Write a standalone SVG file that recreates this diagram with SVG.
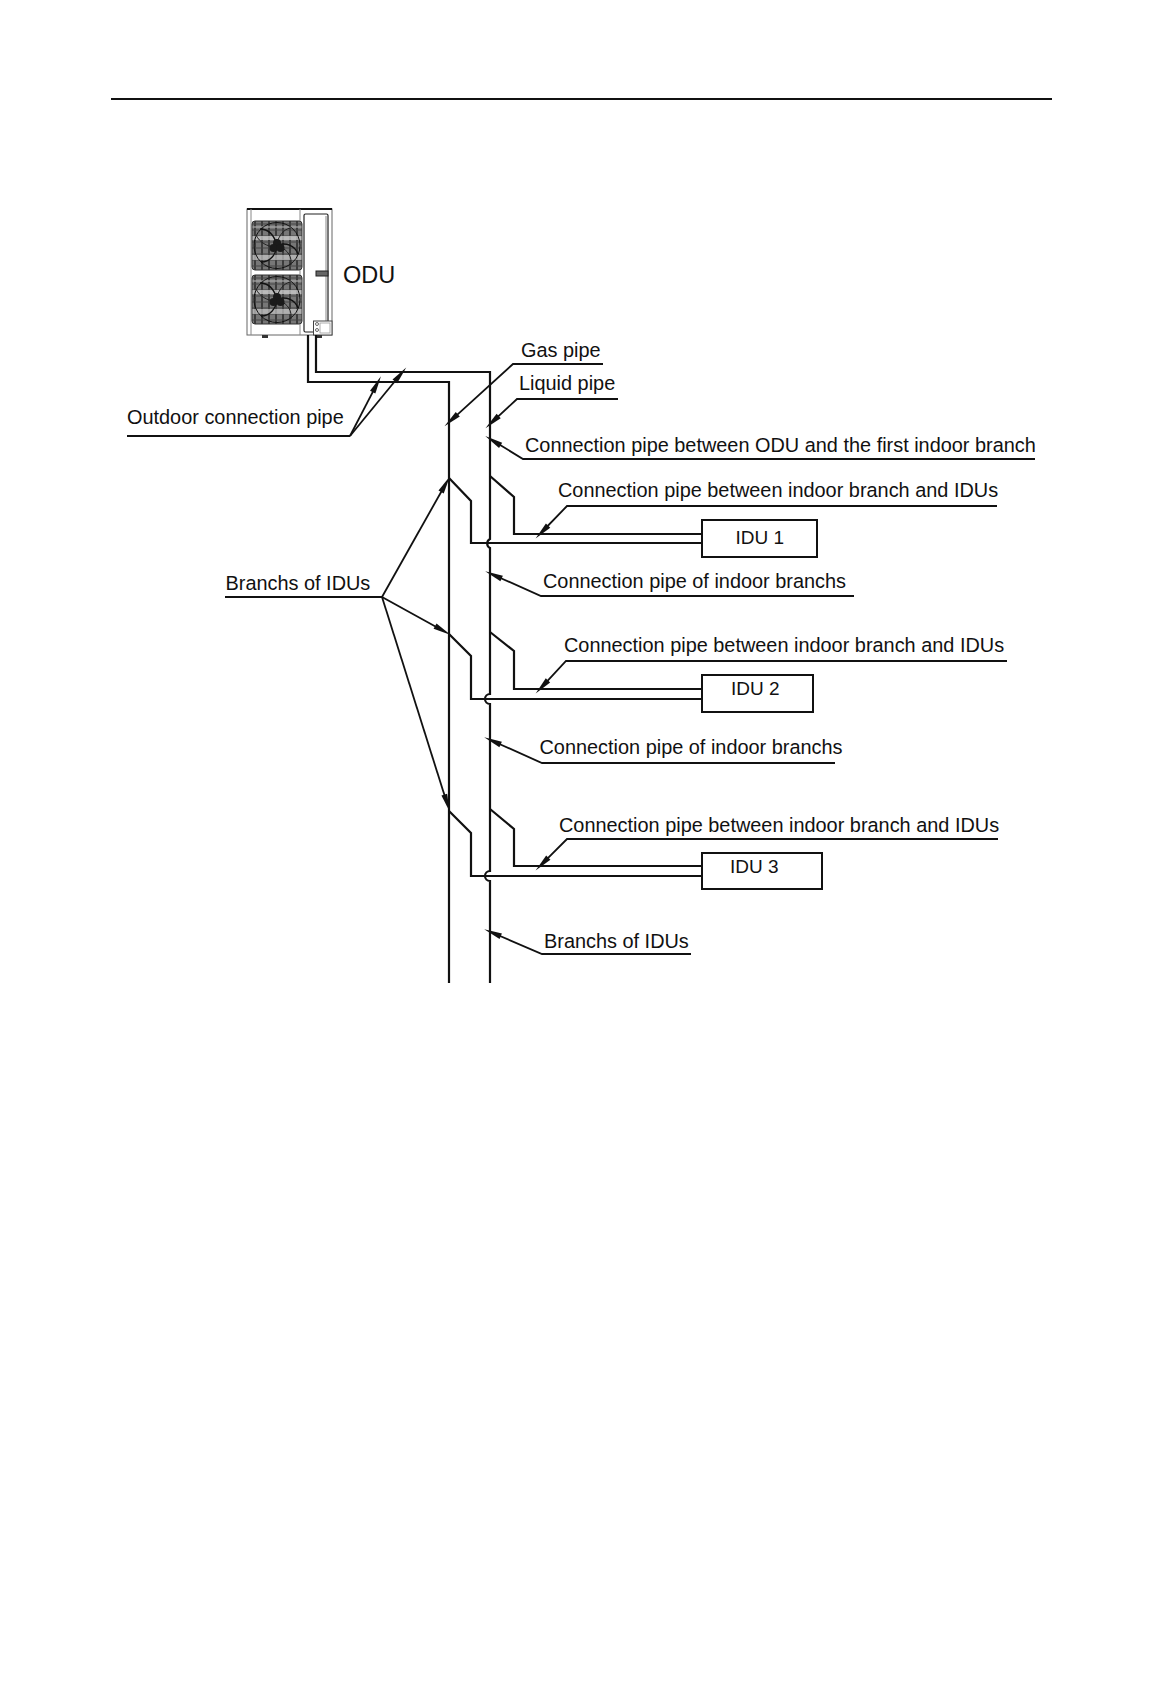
<svg xmlns="http://www.w3.org/2000/svg" width="1162" height="1684" viewBox="0 0 1162 1684">
<style>
text{font-family:"Liberation Sans",Arial,sans-serif;font-size:19.900px;fill:#111}
.idu{font-size:19px}
.pipe{fill:none;stroke:#111;stroke-width:2.2}
.lead{fill:none;stroke:#111;stroke-width:1.8;marker-end:url(#ah)}
.under{fill:none;stroke:#111;stroke-width:1.8}
.box{fill:#fff;stroke:#111;stroke-width:2}
.thin{fill:none;stroke:#888;stroke-width:1}
</style>
<defs>
<marker id="ah" markerUnits="userSpaceOnUse" markerWidth="18" markerHeight="8" refX="0" refY="4" orient="auto" overflow="visible"><path d="M-2 1L16 4L-2 7Z" fill="#111"/></marker>
<pattern id="grille" width="7" height="6" patternUnits="userSpaceOnUse"><rect width="7" height="6" fill="#777"/><path d="M3 0V6" stroke="#222" stroke-width="1.400"/><path d="M0 3H7" stroke="#444" stroke-width="1"/></pattern>
<g id="fan">
<rect x="0" y="0" width="50" height="49" rx="3" fill="url(#grille)" stroke="#333" stroke-width="1"/>
<rect x="0.500" y="15" width="49" height="4" fill="#d0d0d0" opacity=".75"/>
<rect x="0.500" y="34" width="49" height="5" fill="#c8c8c8" opacity=".7"/>
<rect x="0.500" y="5" width="49" height="2" fill="#aaa" opacity=".6"/>
<circle cx="25" cy="24.500" r="23" fill="none" stroke="#111" stroke-width="1"/>
<path d="M25 24C22 14 16 8 8 8M25 24C35 21 43 25 46 33M25 24C24 34 18 41 9 41" fill="none" stroke="#111" stroke-width="1.300"/>
<path d="M25 21C28 14 31 9 38 7M28 26C36 29 40 36 39 44M22 26C15 25 8 22 4 14" fill="none" stroke="#222" stroke-width="1"/>
<circle cx="25" cy="22" r="4" fill="#1a1a1a"/>
<circle cx="21.500" cy="27" r="4" fill="#1a1a1a"/>
<circle cx="28.500" cy="27" r="4" fill="#1a1a1a"/>
</g>
</defs>
<rect width="1162" height="1684" fill="#fff"/>
<line id="header-rule" x1="111" y1="99" x2="1052" y2="99" stroke="#111" stroke-width="2"/>

<g id="odu">
<rect x="247" y="209" width="85" height="126" fill="#fff" stroke="#666" stroke-width="1"/>
<path d="M247 209H332" stroke="#111" stroke-width="2" fill="none"/>
<path d="M251 209V335M300 209V335" class="thin"/>
<use href="#fan" x="252" y="221"/>
<use href="#fan" x="252" y="275"/>
<rect x="304" y="214" width="24" height="118" rx="1.500" fill="#fff" stroke="#222" stroke-width="1.200"/>
<path d="M326 216V321" class="thin"/>
<rect x="316" y="271" width="12" height="5" fill="#666" stroke="#222" stroke-width="1"/>
<rect x="313.500" y="321" width="18.500" height="14" fill="#fff" stroke="#444" stroke-width="1"/>
<rect x="320" y="323" width="10" height="10" fill="#fff" stroke="#999" stroke-width=".8"/>
<circle cx="317" cy="324" r="1.500" fill="none" stroke="#444" stroke-width=".8"/>
<circle cx="317" cy="330" r="1.500" fill="none" stroke="#444" stroke-width=".8"/>
<rect x="262" y="335" width="6" height="3" fill="#333"/>
<rect x="315" y="335" width="7" height="3" fill="#333"/>
<text x="343" y="283" style="font-size:23.500px">ODU</text>
</g>

<g id="idu1"><rect class="box" x="702" y="520" width="115" height="37"/><text class="idu" x="735.500" y="544">IDU 1</text></g>
<g id="idu2"><rect class="box" x="702" y="675" width="111" height="37"/><text class="idu" x="731" y="695">IDU 2</text></g>
<g id="idu3"><rect class="box" x="702" y="853" width="120" height="36"/><text class="idu" x="730" y="873">IDU 3</text></g>

<g id="connectors">
<path class="pipe" d="M316 335V372H490V539A5 5 0 0 0 490 548V694A5 5 0 0 0 490 704V871A5 5 0 0 0 490 881V983"/>
<path class="pipe" d="M308 335V382H449V983"/>
<path class="pipe" d="M449 478L471 501V543H702"/>
<path class="pipe" d="M490 476L514 497V534H702"/>
<path class="pipe" d="M449 634L471 656V699H702"/>
<path class="pipe" d="M490 632L514 651V689H702"/>
<path class="pipe" d="M449 811L471 833V876H702"/>
<path class="pipe" d="M490 809L514 829V866H702"/>
<path class="under" d="M127 436H350"/>
<path class="lead" d="M350 436L373.600 390.400"/>
<path class="lead" d="M350 436L396.100 379.800"/>
<path class="lead" d="M603 364H513L456.300 415.600"/>
<path class="lead" d="M618 399H517L497.200 417.400"/>
<path class="lead" d="M1035 459H523L498.900 444.300"/>
<path class="lead" d="M997 506H567L546.700 527"/>
<path class="lead" d="M854 596H541L499.800 577.700"/>
<path class="under" d="M225 597H382"/>
<path class="lead" d="M382 597L442.100 490.200"/>
<path class="lead" d="M382 597L436.800 627.200"/>
<path class="lead" d="M382 597L444.900 796.600"/>
<path class="lead" d="M1007 661H566L546.600 681.800"/>
<path class="lead" d="M835 763H542L498.800 743.700"/>
<path class="lead" d="M998 839H567L546.900 859.100"/>
<path class="lead" d="M691 954H542L498.900 935.500"/>
</g>

<g id="labels">
<text x="127" y="424">Outdoor connection pipe</text>
<text x="521" y="357">Gas pipe</text>
<text x="519" y="390">Liquid pipe</text>
<text x="525" y="452">Connection pipe between ODU and the first indoor branch</text>
<text x="558" y="497">Connection pipe between indoor branch and IDUs</text>
<text x="543" y="588">Connection pipe of indoor branchs</text>
<text x="564" y="652">Connection pipe between indoor branch and IDUs</text>
<text x="539.500" y="754">Connection pipe of indoor branchs</text>
<text x="559" y="832">Connection pipe between indoor branch and IDUs</text>
<text x="544" y="948">Branchs of IDUs</text>
<text x="225.500" y="590">Branchs of IDUs</text>
</g>
</svg>
